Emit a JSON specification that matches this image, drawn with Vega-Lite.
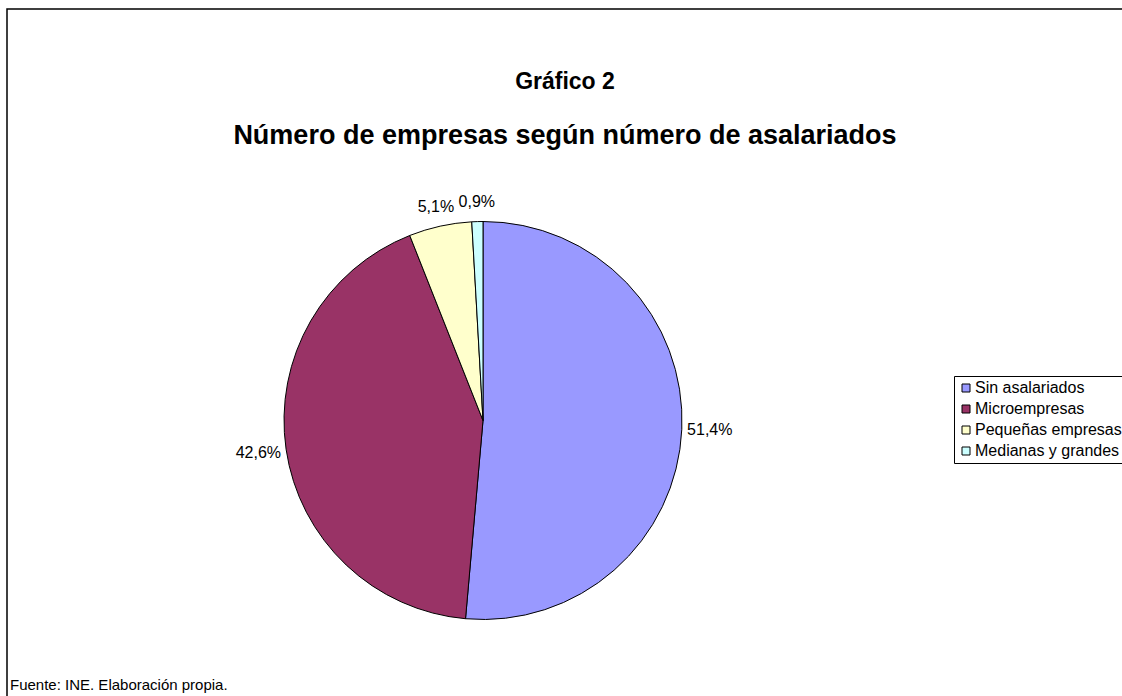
{
  "$schema": "https://vega.github.io/schema/vega-lite/v6.json",
  "width": 1130,
  "height": 700,
  "autosize": {"type": "none"},
  "padding": {"left": 7, "top": 9, "right": 0, "bottom": 0},
  "background": "white",
  "view": {"stroke": "black", "strokeWidth": 1.5, "fill": "white"},
  "config": {
    "view": {"stroke": "black", "strokeWidth": 1.5},
    "font": "Liberation Sans"
  },
  "title": {
    "text": "Gráfico 2",
    "subtitle": "Número de empresas según número de asalariados",
    "anchor": "middle",
    "dx": -7,
    "offset": -140,
    "font": "Liberation Sans",
    "fontSize": 23,
    "fontWeight": "bold",
    "color": "black",
    "subtitleFont": "Liberation Sans",
    "subtitleFontSize": 27,
    "subtitleFontWeight": "bold",
    "subtitleColor": "black",
    "subtitlePadding": 29
  },
  "datasets": {
    "empresas": [
      {"categoria": "Sin asalariados", "valor": 51.4, "etiqueta": "51,4%", "orden": 1},
      {"categoria": "Microempresas", "valor": 42.6, "etiqueta": "42,6%", "orden": 2},
      {"categoria": "Pequeñas empresas", "valor": 5.1, "etiqueta": "5,1%", "orden": 3},
      {"categoria": "Medianas y grandes", "valor": 0.9, "etiqueta": "0,9%", "orden": 4}
    ],
    "nota": [
      {"texto": "Fuente: INE. Elaboración propia."}
    ]
  },
  "layer": [
    {
      "data": {"name": "empresas"},
      "mark": {"type": "arc", "x": 476, "y": 411.5, "outerRadius": 199, "stroke": "black", "strokeWidth": 1},
      "encoding": {
        "theta": {"field": "valor", "type": "quantitative", "stack": true},
        "order": {"field": "orden", "type": "quantitative"},
        "color": {
          "field": "categoria",
          "type": "nominal",
          "sort": ["Sin asalariados", "Microempresas", "Pequeñas empresas", "Medianas y grandes"],
          "scale": {
            "domain": ["Sin asalariados", "Microempresas", "Pequeñas empresas", "Medianas y grandes"],
            "range": ["#9999FF", "#993366", "#FFFFCC", "#CCFFFF"]
          },
          "legend": {
            "title": null,
            "orient": "none",
            "legendX": 947,
            "legendY": 367,
            "strokeColor": "black",
            "fillColor": "white",
            "padding": 4,
            "symbolType": "square",
            "symbolSize": 64,
            "symbolStrokeColor": "black",
            "symbolStrokeWidth": 1,
            "symbolOpacity": 1,
            "labelFont": "Liberation Sans",
            "labelFontSize": 16,
            "labelColor": "black",
            "labelOffset": 1,
            "rowPadding": 5
          }
        }
      }
    },
    {
      "data": {"name": "empresas"},
      "mark": {"type": "text", "x": 476, "y": 411.5, "radius": 227, "font": "Liberation Sans", "fontSize": 16, "color": "black", "align": "center", "baseline": "middle"},
      "encoding": {
        "theta": {"field": "valor", "type": "quantitative", "stack": true},
        "order": {"field": "orden", "type": "quantitative"},
        "detail": {"field": "categoria", "type": "nominal"},
        "text": {"field": "etiqueta", "type": "nominal"},
        "opacity": {"condition": {"test": "datum.orden <= 2", "value": 1}, "value": 0}
      }
    },
    {
      "data": {"name": "empresas"},
      "mark": {"type": "text", "x": 476, "y": 411.5, "radius": 219, "font": "Liberation Sans", "fontSize": 16, "color": "black", "align": "center", "baseline": "middle"},
      "encoding": {
        "theta": {"field": "valor", "type": "quantitative", "stack": true},
        "order": {"field": "orden", "type": "quantitative"},
        "detail": {"field": "categoria", "type": "nominal"},
        "text": {"field": "etiqueta", "type": "nominal"},
        "opacity": {"condition": {"test": "datum.orden > 2", "value": 1}, "value": 0}
      }
    },
    {
      "data": {"name": "nota"},
      "mark": {"type": "text", "x": 3, "y": 681, "font": "Liberation Sans", "fontSize": 15, "color": "black", "align": "left", "baseline": "alphabetic"},
      "encoding": {
        "text": {"field": "texto", "type": "nominal"}
      }
    }
  ]
}
